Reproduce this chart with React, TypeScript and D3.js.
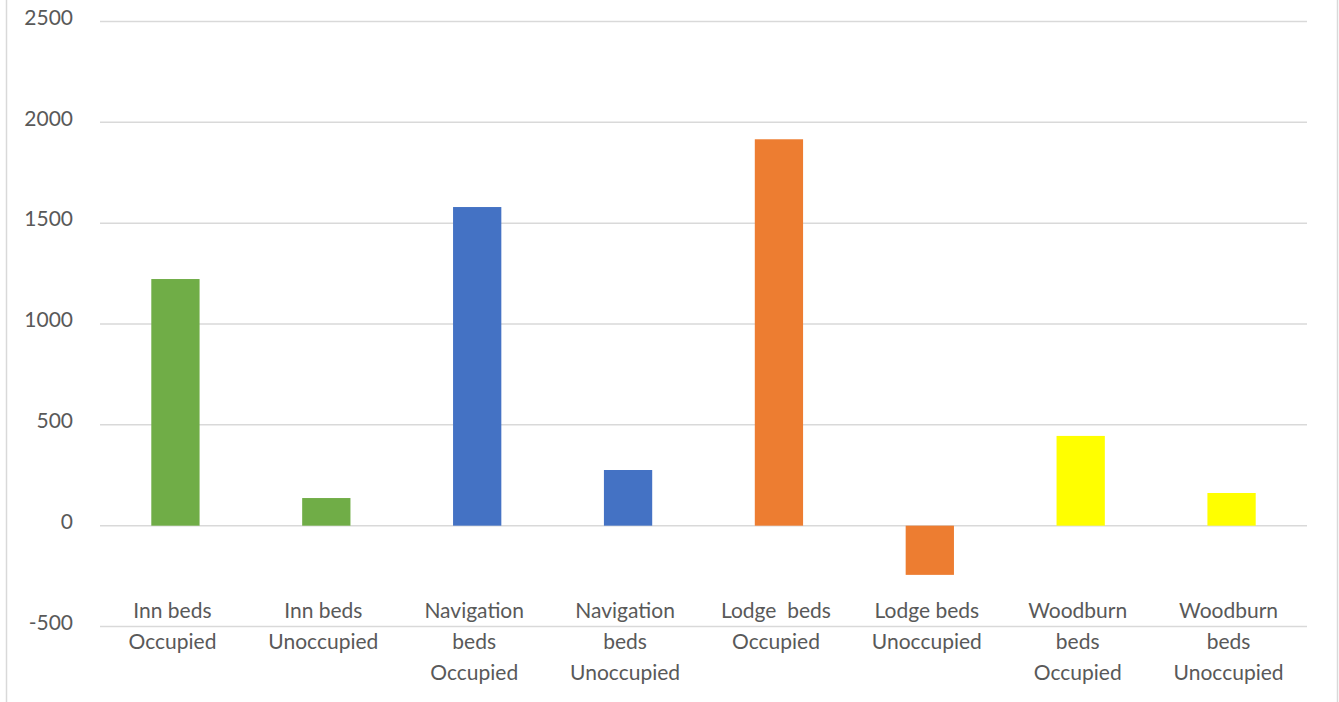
import React from "react";
import * as d3 from "d3";

const categories: string[] = [
  "Inn beds Occupied",
  "Inn beds Unoccupied",
  "Navigation beds Occupied",
  "Navigation beds Unoccupied",
  "Lodge  beds Occupied",
  "Lodge beds Unoccupied",
  "Woodburn beds Occupied",
  "Woodburn beds Unoccupied",
];

// Category labels split the way they wrap under each bar
const labelLines: string[][] = [
  ["Inn beds", "Occupied"],
  ["Inn beds", "Unoccupied"],
  ["Navigation", "beds", "Occupied"],
  ["Navigation", "beds", "Unoccupied"],
  ["Lodge  beds", "Occupied"],
  ["Lodge beds", "Unoccupied"],
  ["Woodburn", "beds", "Occupied"],
  ["Woodburn", "beds", "Unoccupied"],
];

const values: number[] = [1223, 137, 1580, 276, 1916, -244, 445, 162];

const barColors: string[] = [
  "#70AD47",
  "#70AD47",
  "#4472C4",
  "#4472C4",
  "#ED7D31",
  "#ED7D31",
  "#FFFF00",
  "#FFFF00",
];

const yTicks: number[] = [-500, 0, 500, 1000, 1500, 2000, 2500];

const W = 1339;
const H = 702;
const FONT = "Lato, 'Open Sans', sans-serif";

export default function App() {
  const plotLeft = 100;
  const plotRight = 1307;

  const x = d3
    .scaleBand<number>()
    .domain(d3.range(categories.length))
    .range([plotLeft, plotRight])
    .paddingInner(0.68)
    .paddingOuter(0.34);

  const y = d3.scaleLinear().domain([-500, 2500]).range([626.5, 21.5]);

  const band = (plotRight - plotLeft) / categories.length;
  const labelX = (i: number) => plotLeft + band * (i + 0.5) - 3;

  return (
    <svg
      width={W}
      height={H}
      style={{ position: "absolute", left: 0, top: 0, background: "#fff" }}
      fontFamily={FONT}
    >
      {/* chart frame edges */}
      <line x1={6.5} x2={6.5} y1={0} y2={H} stroke="#d9d9d9" strokeWidth={1.5} />
      <line x1={1337.5} x2={1337.5} y1={0} y2={H} stroke="#d9d9d9" strokeWidth={1.5} />

      {/* horizontal gridlines */}
      {yTicks.map((t) => (
        <line
          key={"g" + t}
          x1={plotLeft}
          x2={plotRight}
          y1={y(t)}
          y2={y(t)}
          stroke="#d9d9d9"
          strokeWidth={1.5}
        />
      ))}

      {/* y-axis labels */}
      {yTicks.map((t) => (
        <text
          key={"t" + t}
          x={73}
          y={y(t) - 2}
          textAnchor="end"
          dominantBaseline="middle"
          fontSize={21}
          fill="#595959"
        >
          {t}
        </text>
      ))}

      {/* bars */}
      {values.map((v, i) => (
        <rect
          key={"b" + i}
          x={x(i)}
          width={x.bandwidth()}
          y={Math.min(y(v), y(0))}
          height={Math.abs(y(v) - y(0))}
          fill={barColors[i]}
        />
      ))}

      {/* category labels */}
      {labelLines.map((lines, i) => (
        <text
          key={"c" + i}
          x={labelX(i)}
          textAnchor="middle"
          fontSize={21}
          fill="#595959"
          style={{ whiteSpace: "pre" }}
        >
          {lines.map((ln, j) => (
            <tspan key={j} x={labelX(i)} y={618 + j * 31}>
              {ln}
            </tspan>
          ))}
        </text>
      ))}
    </svg>
  );
}
